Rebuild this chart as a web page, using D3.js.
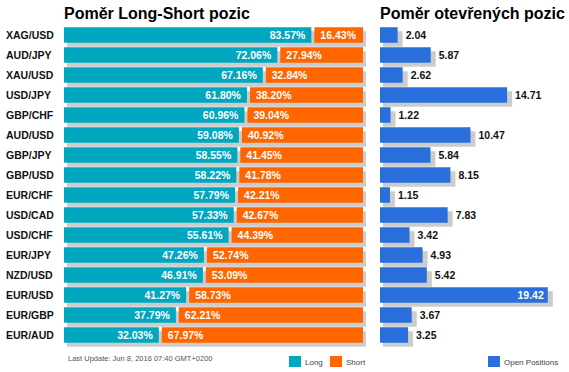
<!DOCTYPE html>
<html>
<head>
<meta charset="utf-8">
<script src="https://cdn.jsdelivr.net/npm/d3@7"></script>
<style>
  body { margin: 0; background: #fff; }
  svg { display: block; font-family: Arial, "Liberation Sans", sans-serif; }
</style>
</head>
<body>
<svg id="chart" width="569" height="372"></svg>
<script>
const pairs = ["XAG/USD", "AUD/JPY", "XAU/USD", "USD/JPY", "GBP/CHF", "AUD/USD", "GBP/JPY", "GBP/USD",
  "EUR/CHF", "USD/CAD", "USD/CHF", "EUR/JPY", "NZD/USD", "EUR/USD", "EUR/GBP", "EUR/AUD"];
const longPct = [83.57, 72.06, 67.16, 61.80, 60.96, 59.08, 58.55, 58.22, 57.79, 57.33, 55.61, 47.26, 46.91, 41.27, 37.79, 32.03];
const shortPct = [16.43, 27.94, 32.84, 38.20, 39.04, 40.92, 41.45, 41.78, 42.21, 42.67, 44.39, 52.74, 53.09, 58.73, 62.21, 67.97];
const openPos = [2.04, 5.87, 2.62, 14.71, 1.22, 10.47, 5.84, 8.15, 1.15, 7.83, 3.42, 4.93, 5.42, 19.42, 3.67, 3.25];

const colLong = "#01a6bf", colShort = "#ff6600", colOpen = "#2a6fdb", colShadow = "#cccccc";

const rows = pairs.map((p, i) => ({ pair: p, long: longPct[i], short: shortPct[i], open: openPos[i] }));

const svg = d3.select("#chart");

// rows
const y = d3.scaleBand().domain(pairs).range([25, 345]).paddingInner(0.225).paddingOuter(0.1125);
const bh = y.bandwidth();

// left chart: long/short split
const leftX0 = 64, gap = 3;
const pct = d3.scaleLinear().domain([0, 100]).range([0, 296]);

svg.append("text").attr("x", leftX0).attr("y", 19)
  .attr("font-size", 16).attr("font-weight", "bold").attr("fill", "#000")
  .text("Poměr Long-Short pozic");

const left = svg.append("g");
const lrow = left.selectAll("g").data(rows).join("g")
  .attr("transform", d => `translate(0,${y(d.pair)})`);

lrow.append("rect").attr("x", leftX0 + 3).attr("y", 4)
  .attr("width", pct(100) + gap).attr("height", bh).attr("fill", colShadow);
lrow.append("rect").attr("x", leftX0).attr("y", 0)
  .attr("width", d => pct(d.long)).attr("height", bh).attr("fill", colLong);
lrow.append("rect").attr("x", d => leftX0 + pct(d.long) + gap).attr("y", 0)
  .attr("width", d => pct(d.short)).attr("height", bh).attr("fill", colShort);

lrow.append("text").attr("x", 6).attr("y", bh / 2 + 4)
  .attr("font-size", 10.5).attr("font-weight", "bold").attr("fill", "#111")
  .text(d => d.pair);
lrow.append("text").attr("x", d => leftX0 + pct(d.long) - 6).attr("y", bh / 2 + 4)
  .attr("text-anchor", "end").attr("font-size", 10.5).attr("font-weight", "bold").attr("fill", "#fff")
  .text(d => d.long.toFixed(2) + "%");
lrow.append("text").attr("x", d => leftX0 + pct(d.long) + gap + 6).attr("y", bh / 2 + 4)
  .attr("font-size", 10.5).attr("font-weight", "bold").attr("fill", "#fff")
  .text(d => d.short.toFixed(2) + "%");

// right chart: open positions
const xr = d3.scaleLinear().domain([0, 20]).range([380, 552.8]);

svg.append("text").attr("x", 380).attr("y", 19)
  .attr("font-size", 16).attr("font-weight", "bold").attr("fill", "#000")
  .text("Poměr otevřených pozic");

const rrow = svg.append("g").selectAll("g").data(rows).join("g")
  .attr("transform", d => `translate(0,${y(d.pair)})`);

rrow.append("rect").attr("x", xr(0) + 3).attr("y", 4)
  .attr("width", d => xr(d.open) - xr(0) + 2).attr("height", bh).attr("fill", colShadow);
rrow.append("rect").attr("x", xr(0)).attr("y", 0)
  .attr("width", d => xr(d.open) - xr(0)).attr("height", bh).attr("fill", colOpen);

const inside = d => xr(d.open) > 520;
rrow.append("text")
  .attr("x", d => inside(d) ? xr(d.open) - 4 : xr(d.open) + 8)
  .attr("y", bh / 2 + 4)
  .attr("text-anchor", d => inside(d) ? "end" : "start")
  .attr("font-size", 10.5).attr("font-weight", "bold")
  .attr("fill", d => inside(d) ? "#fff" : "#111")
  .text(d => d.open.toFixed(2));

// footer
svg.append("text").attr("x", 68).attr("y", 361)
  .attr("font-size", 7.5).attr("fill", "#555")
  .text("Last Update: Jun 8, 2016 07:40 GMT+0200");

const legend = [
  { label: "Long", color: colLong, x: 289 },
  { label: "Short", color: colShort, x: 330 },
  { label: "Open Positions", color: colOpen, x: 488 }
];
const lg = svg.append("g").selectAll("g").data(legend).join("g")
  .attr("transform", d => `translate(${d.x},356)`);
lg.append("rect").attr("width", 12).attr("height", 11).attr("fill", d => d.color);
lg.append("text").attr("x", 16).attr("y", 8.5)
  .attr("font-size", 8).attr("fill", "#444")
  .text(d => d.label);
</script>
</body>
</html>
